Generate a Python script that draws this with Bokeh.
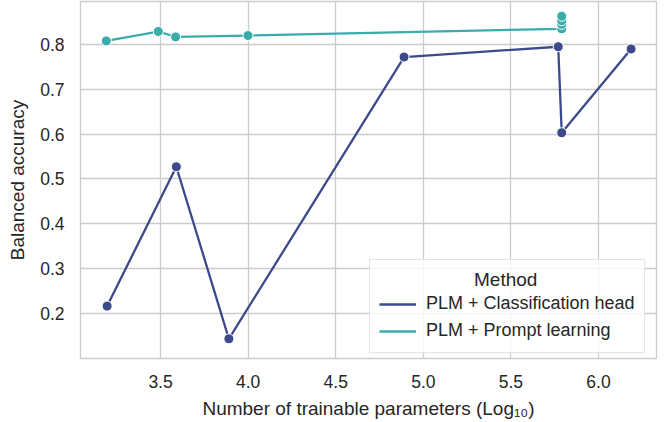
from bokeh.plotting import figure
from bokeh.models import Legend, LegendItem, FixedTicker, Range1d, PrintfTickFormatter
from bokeh.embed import file_html
from bokeh.resources import INLINE

# Data (log10 of trainable parameters vs balanced accuracy)
ch_x = [3.195, 3.59, 3.89, 4.89, 5.77, 5.79, 6.186]
ch_y = [0.216, 0.527, 0.143, 0.772, 0.795, 0.603, 0.790]
pl_x = [3.19, 3.487, 3.586, 3.999, 5.79, 5.79, 5.79, 5.79]
pl_y = [0.808, 0.829, 0.817, 0.820, 0.835, 0.845, 0.853, 0.863]

series_names = ["PLM + Classification head", "PLM + Prompt learning"]
legend_title = "Method"
colors = ["#3c4a8c", "#3aacaa"]

x_ticks = [3.5, 4.0, 4.5, 5.0, 5.5, 6.0]
y_ticks = [0.2, 0.3, 0.4, 0.5, 0.6, 0.7, 0.8]

FONT = "Liberation Sans"
TXT = "#262626"
GRID = "#cccccc"

p = figure(width=666, height=421, output_backend="svg", toolbar_location=None,
           x_range=Range1d(3.043, 6.331), y_range=Range1d(0.099, 0.896),
           min_border_left=80, min_border_right=10, min_border_top=1, min_border_bottom=62)
p.background_fill_color = "white"
p.border_fill_color = "white"
p.outline_line_color = GRID
p.outline_line_width = 1.3

for ax in (p.xaxis[0], p.yaxis[0]):
    ax.axis_line_color = None
    ax.major_tick_line_color = None
    ax.minor_tick_line_color = None
    ax.major_label_text_font = FONT
    ax.major_label_text_font_size = "17.5px"
    ax.major_label_text_color = TXT
    ax.axis_label_text_font = FONT
    ax.axis_label_text_font_size = "19px"
    ax.axis_label_text_font_style = "normal"
    ax.axis_label_text_color = TXT
    ax.formatter = PrintfTickFormatter(format="%.1f")

p.xaxis.ticker = FixedTicker(ticks=x_ticks)
p.yaxis.ticker = FixedTicker(ticks=y_ticks)
p.xaxis.major_label_standoff = 10
p.yaxis.major_label_standoff = 10
p.xaxis.axis_label = "Number of trainable parameters (Log\u2081\u2080)"
p.yaxis.axis_label = "Balanced accuracy"
p.xaxis.axis_label_standoff = 7
p.yaxis.axis_label_standoff = 9

for g in (p.xgrid[0], p.ygrid[0]):
    g.grid_line_color = GRID
    g.grid_line_width = 1.3

r1 = p.line(ch_x, ch_y, line_color=colors[0], line_width=2.3)
p.scatter(ch_x, ch_y, size=10, fill_color=colors[0], line_color="white", line_width=1)
r2 = p.line(pl_x, pl_y, line_color=colors[1], line_width=2.3)
p.scatter(pl_x, pl_y, size=10, fill_color=colors[1], line_color="white", line_width=1)

legend = Legend(items=[LegendItem(label=series_names[0], renderers=[r1]),
                       LegendItem(label=series_names[1], renderers=[r2])],
                location=(289, 5), title="\u00a0" * 18 + legend_title)
legend.title_text_font = FONT
legend.title_text_font_size = "19px"
legend.title_text_font_style = "normal"
legend.title_text_color = TXT
legend.title_standoff = 0
legend.label_text_font = FONT
legend.label_text_font_size = "18px"
legend.label_text_color = TXT
legend.glyph_width = 37
legend.label_standoff = 10
legend.label_height = 25
legend.spacing = 2
legend.padding = 9
legend.margin = 0
legend.border_line_color = GRID
legend.border_line_width = 1
legend.background_fill_color = "white"
legend.background_fill_alpha = 0.8
p.add_layout(legend, "center")

open("out.html", "w").write(file_html(p, INLINE))
